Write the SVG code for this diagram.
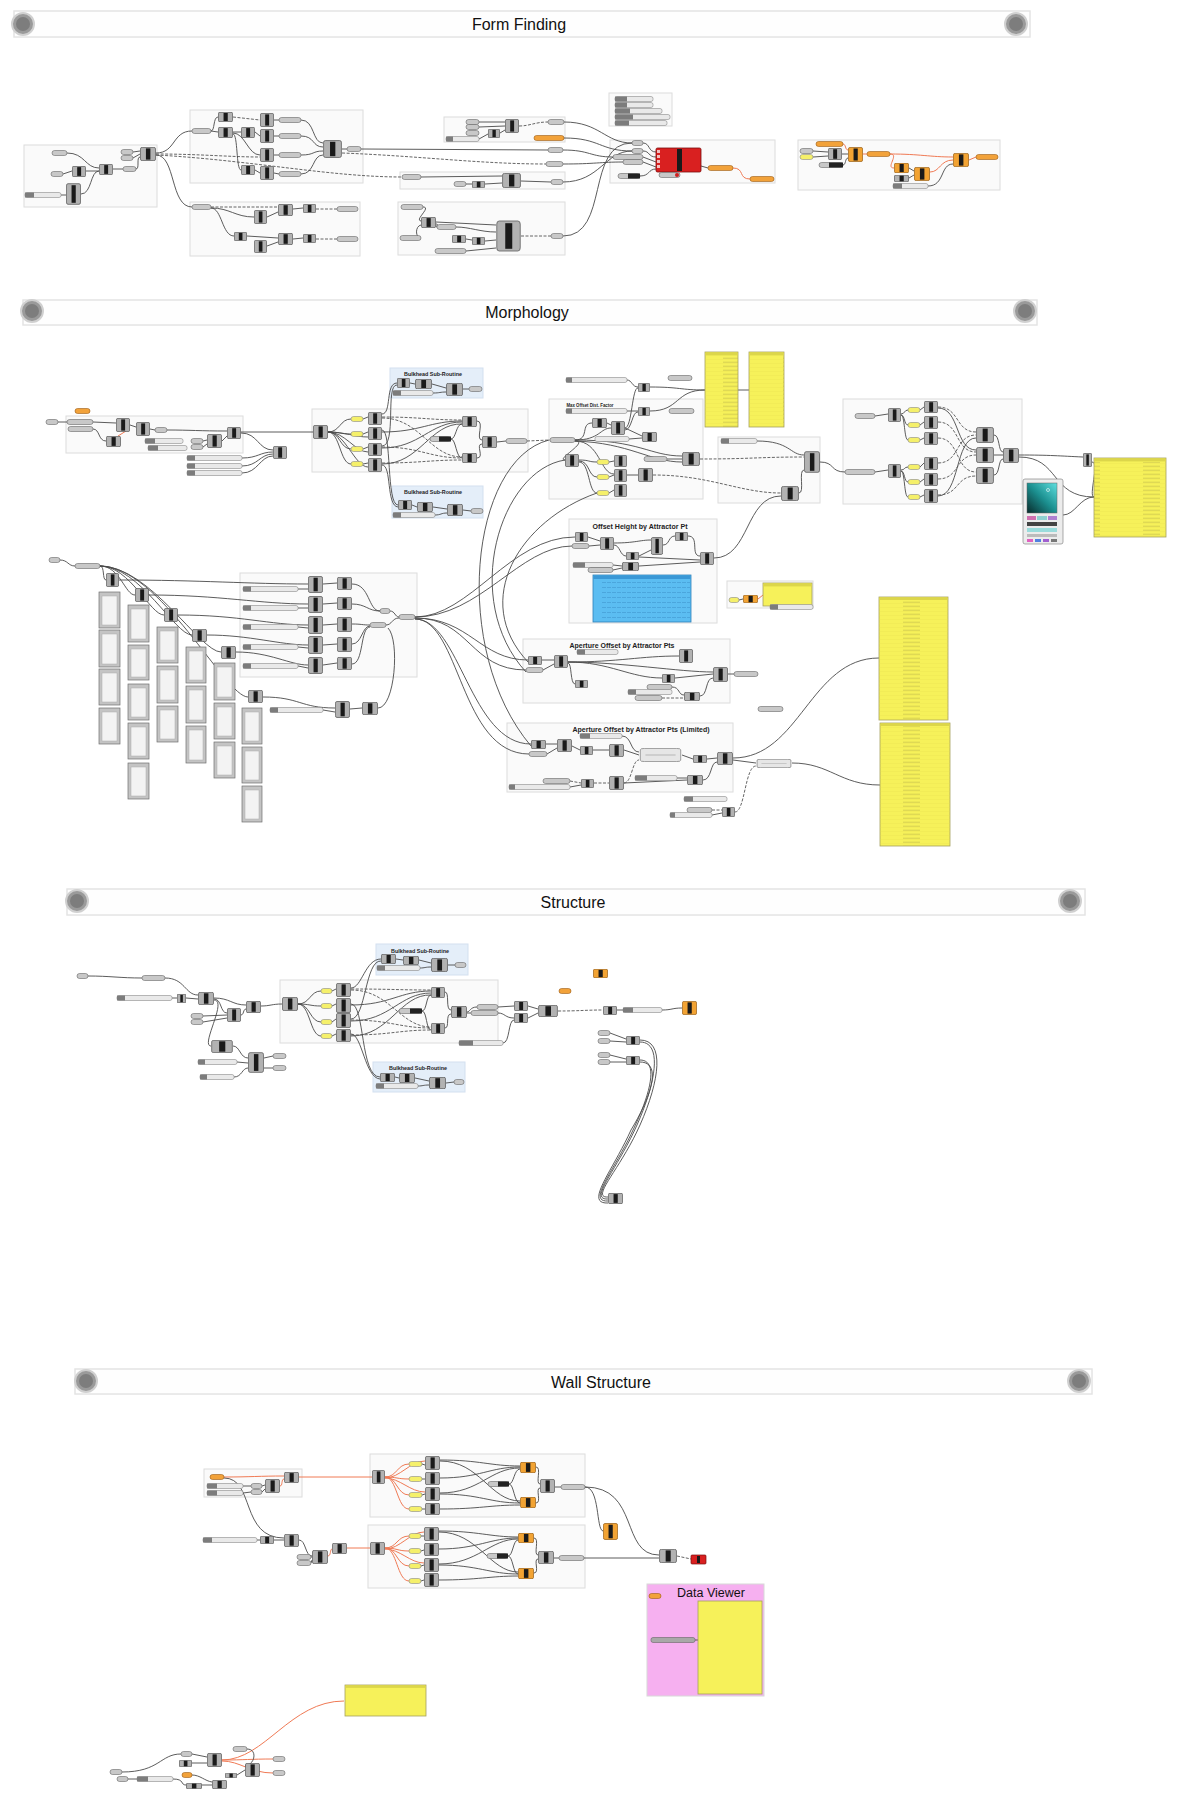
<svg xmlns="http://www.w3.org/2000/svg" width="1177" height="1800" viewBox="0 0 1177 1800">
<style>
.hb{fill:#fefefe;stroke:#e4e4e4;stroke-width:1.5}
.kn{fill:#9a9a9a;stroke:#d0d0d0;stroke-width:2}
.ki{fill:#7d7d7d}
.ht{font-family:"Liberation Sans",Arial,sans-serif;font-size:16px;fill:#111;text-anchor:middle}
.gl{font-family:"Liberation Sans",Arial,sans-serif;font-weight:bold;fill:#222;text-anchor:middle}
.grp{fill:#fafafa;stroke:#dcdcdc;stroke-width:1}
.bh{fill:#e4eef9;stroke:#d3e0ef;stroke-width:1}
.p{fill:#c8c8c8;stroke:#666;stroke-width:.6;rx:2.5px}
.py{fill:#f5f06a;stroke:#888;stroke-width:.6;rx:2.5px}
.po{fill:#f2a23a;stroke:#9a5a14;stroke-width:.6;rx:2.5px}
.s{fill:#e9e9e9;stroke:#8a8a8a;stroke-width:.6;rx:2px}
.sl{fill:#7c7c7c}
.tg{fill:#222}
.w{fill:none;stroke:#4a4a4a;stroke-width:.9}
.wd{fill:none;stroke:#555;stroke-width:.9;stroke-dasharray:3 1.5}
.wo{fill:none;stroke:#f07a55;stroke-width:1}
.pan{fill:#f6f15a;stroke:#a5a060;stroke-width:.8}
.ph{fill:#dcd64a}
.tl{fill:#c4c4c4;stroke:#707070;stroke-width:.7}
.ti{fill:#f3f3f3;stroke:#aaa;stroke-width:.5}
</style>
<defs>
<symbol id="c" viewBox="0 0 10 10" preserveAspectRatio="none"><rect x=".3" y=".3" width="9.4" height="9.4" rx="1" fill="#b2b2b2" stroke="#505050" stroke-width=".7" vector-effect="non-scaling-stroke"/><rect x="3.7" y="1" width="2.8" height="8" fill="#1a1a1a"/></symbol>
<symbol id="co" viewBox="0 0 10 10" preserveAspectRatio="none"><rect x=".3" y=".3" width="9.4" height="9.4" rx="1" fill="#f2a333" stroke="#955a10" stroke-width=".7" vector-effect="non-scaling-stroke"/><rect x="3.7" y="1" width="2.8" height="8" fill="#1a1a1a"/></symbol>
<symbol id="cl" viewBox="0 0 10 10" preserveAspectRatio="none"><rect x=".3" y=".3" width="9.4" height="9.4" rx="1" fill="#e6e6e6" stroke="#777" stroke-width=".7" vector-effect="non-scaling-stroke"/><rect x="1.5" y="4.6" width="7" height=".8" fill="#bbb"/></symbol>
<pattern id="rows" width="60" height="4" patternUnits="userSpaceOnUse"><line x1="3" y1="2.2" x2="20" y2="2.2" stroke="#bdb54a" stroke-width=".6"/><line x1="0" y1="3.9" x2="60" y2="3.9" stroke="#e6df4c" stroke-width=".4"/></pattern>
<pattern id="brows" width="100" height="5" patternUnits="userSpaceOnUse"><line x1="2" y1="2.5" x2="90" y2="2.5" stroke="#3a8fc8" stroke-width=".5" stroke-dasharray="4 1"/></pattern>
<pattern id="grs" width="3" height="3" patternUnits="userSpaceOnUse"><line x1="0" y1="1.5" x2="3" y2="1.5" stroke="#dadada" stroke-width=".5"/></pattern>
<linearGradient id="sw" x1="1" y1="0" x2="0" y2="1"><stop offset="0" stop-color="#5fe0e0"/><stop offset=".5" stop-color="#1b8f8f"/><stop offset="1" stop-color="#082a2a"/></linearGradient>
</defs>
<rect width="1177" height="1800" fill="#ffffff"/>

<g id="hdr-form-finding"><rect class="hb" x="14" y="11" width="1016" height="26"/><circle class="kn" cx="23" cy="24" r="11"/><circle class="ki" cx="23" cy="24" r="7"/><circle class="kn" cx="1016" cy="24" r="11"/><circle class="ki" cx="1016" cy="24" r="7"/><text class="ht" x="519" y="29.5">Form Finding</text></g>
<g id="hdr-morphology"><rect class="hb" x="23" y="300" width="1014" height="25"/><circle class="kn" cx="32" cy="311" r="11"/><circle class="ki" cx="32" cy="311" r="7"/><circle class="kn" cx="1025" cy="311" r="11"/><circle class="ki" cx="1025" cy="311" r="7"/><text class="ht" x="527" y="318">Morphology</text></g>
<g id="hdr-structure"><rect class="hb" x="67" y="889" width="1018" height="26"/><circle class="kn" cx="77" cy="901" r="11"/><circle class="ki" cx="77" cy="901" r="7"/><circle class="kn" cx="1070" cy="901" r="11"/><circle class="ki" cx="1070" cy="901" r="7"/><text class="ht" x="573" y="908">Structure</text></g>
<g id="hdr-wall-structure"><rect class="hb" x="75" y="1369" width="1017" height="25"/><circle class="kn" cx="86" cy="1381" r="11"/><circle class="ki" cx="86" cy="1381" r="7"/><circle class="kn" cx="1079" cy="1381" r="11"/><circle class="ki" cx="1079" cy="1381" r="7"/><text class="ht" x="601" y="1388">Wall Structure</text></g>

<g id="groups">
<rect class="grp" x="24" y="145" width="133" height="62"/>
<rect class="grp" x="190" y="110" width="173" height="73"/>
<rect class="grp" x="190" y="202" width="170" height="54"/>
<rect class="grp" x="444" y="117" width="121" height="25"/>
<rect class="grp" x="400" y="172" width="165" height="17"/>
<rect class="grp" x="398" y="202" width="167" height="53"/>
<rect class="grp" x="609" y="93" width="63" height="33"/>
<rect class="grp" x="610" y="140" width="165" height="43"/>
<rect class="grp" x="798" y="140" width="202" height="50"/>
<rect class="grp" x="66" y="416" width="177" height="37"/>
<rect class="grp" x="312" y="409" width="216" height="63"/>
<rect class="bh" x="390" y="368" width="93" height="30"/>
<rect class="bh" x="392" y="486" width="91" height="32"/>
<rect class="grp" x="549" y="399" width="154" height="100"/>
<rect class="grp" x="718" y="437" width="102" height="66"/>
<rect class="grp" x="843" y="399" width="179" height="105"/>
<rect class="grp" x="240" y="573" width="177" height="104"/>
<rect class="grp" x="569" y="519" width="148" height="104"/>
<rect class="grp" x="727" y="581" width="86" height="27"/>
<rect class="grp" x="523" y="639" width="207" height="64"/>
<rect class="grp" x="507" y="723" width="226" height="69"/>
<rect class="grp" x="280" y="980" width="218" height="63"/>
<rect class="bh" x="376" y="944" width="92" height="31"/>
<rect class="bh" x="373" y="1062" width="92" height="30"/>
<rect class="grp" x="204" y="1469" width="98" height="28"/>
<rect class="grp" x="370" y="1454" width="215" height="63"/>
<rect class="grp" x="368" y="1525" width="217" height="63"/>
<rect x="647" y="1584" width="117" height="112" fill="#f6b0f0" stroke="#d8d8d8"/>
<text class="gl" x="433" y="376" font-size="5.5" textLength="58" lengthAdjust="spacingAndGlyphs">Bulkhead Sub-Routine</text>
<text class="gl" x="433" y="494" font-size="5.5" textLength="58" lengthAdjust="spacingAndGlyphs">Bulkhead Sub-Routine</text>
<text class="gl" x="590" y="407" font-size="5.8" textLength="47" lengthAdjust="spacingAndGlyphs">Max Offset Dist. Factor</text>
<text class="gl" x="640" y="529" font-size="7.5" textLength="95" lengthAdjust="spacingAndGlyphs">Offset Height by Attractor Pt</text>
<text class="gl" x="622" y="648" font-size="7.5" textLength="105" lengthAdjust="spacingAndGlyphs">Aperture Offset by Attractor Pts</text>
<text class="gl" x="641" y="732" font-size="7.5" textLength="137" lengthAdjust="spacingAndGlyphs">Aperture Offset by Attractor Pts (Limited)</text>
<text class="gl" x="420" y="953" font-size="5.5" textLength="58" lengthAdjust="spacingAndGlyphs">Bulkhead Sub-Routine</text>
<text class="gl" x="418" y="1070" font-size="5.5" textLength="58" lengthAdjust="spacingAndGlyphs">Bulkhead Sub-Routine</text>
<text x="711" y="1597" font-family="Liberation Sans,Arial,sans-serif" font-size="12.5" fill="#111" text-anchor="middle">Data Viewer</text>
</g>

<g id="connectors">
<path class="w" d="M67,153 C85,153 85,168 99,168 M63,174 L72,171 M86,171 L99,171 M81,194 C92,194 90,171 99,171 M113,169 L123,169 M136,169 C140,169 136,157 140,157 M133,152 L140,151 M133,158 L140,154 M61,195 L66,195"/>
<path class="w" d="M156,153 C176,153 172,131 192,131 M156,155 C176,155 170,207 192,207"/>
<path class="wd" d="M156,154 C200,154 230,157 260,157 M156,155 C250,160 330,177 402,177"/>
<path class="w" d="M211,131 C215,131 213,117 218,117 M211,131 L218,132 M233,132 L241,132 M255,132 L260,136 M233,133 C245,133 248,155 260,155 M233,134 C238,134 236,170 241,170 M255,170 L260,173 M274,120 L279,120 M274,136 L279,136 M274,155 L279,155 M274,173 L279,174 M301,120 C315,120 312,143 323,143 M301,136 C315,136 312,147 323,147 M301,155 C315,155 312,151 323,151 M301,174 C315,174 312,155 323,155 M342,149 L347,149 M361,149 L548,150"/>
<path class="wd" d="M233,117 L260,120 M342,153 C420,156 480,164 546,164"/>
<path class="wd" d="M211,207 L278,207 M316,209 L337,209 M316,239 L337,239"/>
<path class="w" d="M211,208 C230,208 235,217 254,217 M267,217 L278,212 M293,209 L303,208 M211,208 C222,208 222,236 234,236 M247,236 L278,238 M267,246 L278,242 M293,239 L303,238"/>
<path class="w" d="M479,122 L505,122 M479,127 L505,126 M479,139 L488,134 M500,133 L505,130 M421,177 L502,176 M466,184 L472,184 M485,184 L502,183 M521,181 L551,182"/>
<path class="wd" d="M519,126 C530,126 535,122 548,122 M521,236 L551,236"/>
<path class="w" d="M423,207 C432,207 414,220 421,221 M421,238 C415,238 415,226 421,225 M436,222 L496,225 M436,224 C440,224 434,227 437,227 M456,227 C470,227 480,232 496,232 M466,239 L472,240 M485,241 L496,240 M466,251 L496,248"/>
<path class="w" d="M564,122 C600,122 605,143 632,143 M564,138 C600,138 600,151 632,151 M563,150 C590,150 590,157 613,157 M563,164 C595,164 600,162 623,162 M563,182 C600,182 605,151 632,151 M563,236 C610,236 585,143 632,143 M643,143 C650,143 648,152 656,152 M643,151 C650,151 648,157 656,157 M643,157 L656,162 M643,162 L656,167 M640,176 C650,176 648,169 656,169 M701,166 L708,168"/>
<path class="wo" d="M733,168 C745,168 738,179 750,179"/>
<path class="w" d="M813,151 L828,152 M813,157 L828,156 M842,154 L848,154 M843,165 C846,165 845,158 848,158 M909,168 L914,171 M909,178 L914,175 M928,186 C945,186 940,164 953,164"/>
<path class="wo" d="M843,144 C846,144 845,150 848,150 M863,154 L867,154 M890,154 C920,154 930,157 953,157 M890,154 C900,154 885,168 894,168 M930,172 C940,172 940,160 953,160 M969,160 L976,157"/>

<path class="w" d="M58,422 L67,422 M93,422 L116,423 M93,429 C100,429 98,441 106,441 M130,425 L136,427 M150,429 L155,430 M167,430 C190,430 200,431 227,431 M203,441 L207,440 M203,447 L207,444 M222,441 L227,436 M241,432 L313,432 M241,433 C258,433 258,450 273,450 M242,458 C258,458 260,452 273,452 M242,466 C258,466 260,454 273,454 M242,473 C258,473 260,456 273,456"/>
<path class="wo" d="M118,436 L126,431"/>
<path class="w" d="M328,432 C340,432 340,419 351,419 M328,432 C340,432 340,434 351,434 M328,432 C340,432 340,449 351,449 M328,432 C340,432 340,464 351,464 M328,432 C345,432 355,437 368,437 M328,432 C345,432 355,452 368,452 M328,432 C345,432 355,467 368,467 M363,419 L368,417 M363,434 L368,432 M363,449 L368,447 M363,464 L368,463"/>
<path class="wd" d="M382,417 C420,417 430,420 462,420 M382,418 C420,418 430,457 462,457 M382,447 C420,447 430,458 462,458 M382,463 C420,463 430,460 462,460 M527,441 L550,440"/>
<path class="w" d="M382,432 C420,432 430,421 462,421 M382,448 C420,448 430,422 462,422 M382,464 C420,464 430,423 462,424 M451,439 C456,439 456,424 462,424 M451,439 C456,439 456,458 462,458 M477,421 C485,421 475,440 482,440 M477,458 C485,458 475,444 482,444 M497,442 L506,441"/>
<path class="w" d="M382,414 C392,414 385,383 397,383 M382,446 C397,446 385,384 397,385 M382,430 C392,430 386,505 398,505 M382,465 C392,465 386,506 398,507 M410,383 L415,384 M432,384 L446,388 M433,393 C440,393 440,392 446,392 M463,389 L469,389 M412,505 L417,507 M433,507 L447,509 M435,515 C441,515 441,513 447,513 M463,510 L471,511"/>
<path class="w" d="M627,380 C632,380 632,387 638,387 M650,387 C680,387 680,390 705,390 M650,411 C680,411 675,390 705,390 M738,390 L749,390 M627,411 L638,411 M575,440 C590,440 580,423 592,423 M575,440 C600,440 600,428 611,428 M575,440 C640,440 650,456 682,456 M575,441 C630,443 650,462 682,462 M575,441 C600,441 600,474 614,474 M607,423 L611,425 M625,428 L642,436 M629,439 L642,438 M625,428 C632,428 632,387 638,388 M625,430 C632,430 632,411 638,412 M575,441 C590,441 555,460 565,460 M579,460 C590,460 588,462 597,462 M579,461 C590,461 588,477 597,477 M579,462 C590,462 588,493 597,493 M609,462 L614,461 M609,477 L614,475 M609,493 L614,490 M627,475 L638,475 M667,459 L682,459"/>
<path class="wd" d="M700,459 C750,459 760,457 804,457 M653,475 C710,475 740,493 781,493"/>
<path class="w" d="M757,441 C790,441 790,455 804,455 M799,493 C805,493 798,470 804,470 M820,462 C835,462 830,472 845,472 M714,558 C750,558 745,496 781,496"/>
<path class="w" d="M875,416 L888,414 M875,472 L888,470 M901,414 C905,414 904,410 908,410 M901,415 C905,415 904,425 908,425 M901,415 C905,415 904,440 908,440 M901,470 C905,470 904,467 908,467 M901,471 C905,471 904,482 908,482 M901,471 C905,471 904,497 908,497 M920,410 L924,407 M920,425 L924,422 M920,440 L924,438 M920,467 L924,463 M920,482 L924,479 M920,497 L924,495 M938,408 C960,408 955,450 976,450 M938,496 C960,496 955,438 976,438 M994,435 C1000,435 998,452 1003,452 M994,455 L1003,455 M994,475 C1000,475 998,459 1003,459 M1019,455 C1050,455 1060,456 1083,457 M1019,457 C1060,457 1050,497 1094,497 M1092,462 C1100,462 1088,497 1094,497 M1063,515 C1075,515 1080,497 1094,497"/>
<path class="wd" d="M938,407 C960,407 955,432 976,432 M938,422 C960,422 955,452 976,452 M938,438 C960,438 955,472 976,472 M938,463 C960,463 955,435 976,435 M938,479 C960,479 955,455 976,455 M938,495 C960,495 955,476 976,476"/>

<path class="w" d="M60,560 C68,560 68,566 75,566 M100,566 C105,566 102,580 106,580 M100,566 C120,566 125,595 135,595 M100,566 C130,566 150,615 164,615 M100,566 C140,566 175,635 192,635 M100,566 C150,566 200,652 221,652 M100,566 C160,566 225,697 248,697 M119,580 C200,580 250,584 308,584 M149,595 C220,595 260,604 308,604 M178,615 C240,615 270,625 308,625 M207,635 C250,635 280,645 308,645 M236,652 C270,652 290,665 308,665"/>
<path class="w" d="M298,589 L308,589 M298,608 L308,608 M298,627 L308,628 M298,647 L308,648 M298,666 L308,668 M323,584 L337,583 M323,604 L337,603 M323,625 L337,624 M323,645 L337,644 M323,665 L337,663 M352,584 C370,584 368,611 380,611 M352,604 C366,604 368,611 380,611 M352,624 C362,624 362,625 370,625 M352,644 C362,644 362,626 370,626 M352,664 C364,664 360,627 370,627 M390,611 C395,611 395,617 399,617 M386,625 C392,625 392,618 399,618 M378,708 C395,708 400,640 388,628 M263,697 C300,697 300,708 335,708 M323,710 L335,712 M350,709 L362,708"/>
<path class="w" d="M415,617 C480,617 520,546 572,546 M415,617 C470,617 510,537 575,537 M415,618 C470,618 480,660 528,660 M415,618 C470,618 470,670 526,670 M415,619 C460,619 470,744 531,744 M415,619 C460,619 460,754 529,754 M549,440 C470,460 450,650 531,746 M597,493 C520,520 470,600 528,662 M565,460 C500,470 460,600 526,672"/>
<path class="w" d="M588,537 L600,541 M589,546 L600,545 M614,543 C635,543 640,540 651,540 M614,545 C620,545 620,556 626,556 M639,556 L651,550 M663,545 C670,545 668,536 675,536 M688,536 C700,536 690,556 700,556 M639,557 L700,560 M613,565 L622,566 M613,570 L622,568 M639,566 L700,562 M739,600 L743,599"/>
<path class="wo" d="M758,599 L763,595"/>
<path class="w" d="M542,660 L554,660 M543,670 L554,664 M568,662 C620,662 640,656 679,656 M568,662 C620,662 680,672 713,672 M568,662 C610,662 630,678 662,678 M568,663 C572,663 570,684 575,684 M675,678 L713,674 M672,687 C680,687 678,695 684,695 M700,696 C708,696 705,678 713,678 M728,674 L734,674"/>
<path class="wd" d="M662,698 L684,698"/>
<path class="w" d="M546,744 L557,744 M547,754 L557,748 M572,746 L580,750 M593,750 L609,750 M622,736 C632,736 630,752 639,752 M624,750 L639,755 M682,755 L693,759 M707,759 L717,758 M570,787 L581,785 M624,783 L687,780 M677,778 L687,778 M703,780 C712,780 710,762 717,762 M733,758 C800,758 810,658 879,658 M733,760 L756,763 M792,763 C830,763 840,785 880,785 M712,815 L722,813"/>
<path class="wd" d="M570,781 L581,783 M594,783 L609,783 M624,783 C632,783 632,760 639,760 M712,810 L722,810 M735,812 C745,812 745,766 756,766"/>

<path class="w" d="M88,976 C110,976 120,978 142,978 M165,978 C185,978 185,995 198,995 M172,998 L177,998 M186,998 L198,999 M214,998 C230,998 232,1005 246,1005 M214,999 C222,999 220,1013 227,1013 M203,1016 L227,1015 M203,1022 L227,1018 M241,1015 C244,1015 243,1009 246,1009 M261,1006 C270,1006 272,1004 282,1004 M214,1000 C228,1000 200,1046 211,1046 M233,1046 C240,1046 240,1058 248,1058 M237,1062 L248,1063 M234,1077 C242,1077 242,1068 248,1068 M264,1058 L273,1056 M264,1068 L273,1068"/>
<path class="w" d="M298,1004 C310,1004 310,991 321,991 M298,1004 C310,1004 310,1006 321,1006 M298,1004 C310,1004 310,1022 321,1022 M298,1004 C310,1004 310,1036 321,1036 M332,991 L336,989 M332,1006 L336,1004 M332,1022 L336,1019 M332,1036 L336,1034 M351,1005 C390,1005 400,991 431,991 M351,1021 C390,1021 400,993 431,993 M351,1036 C390,1036 400,994 431,995 M422,1011 C427,1011 426,995 431,995 M422,1011 C427,1011 426,1030 431,1030 M445,992 C450,992 445,1010 451,1010 M445,1028 C450,1028 445,1014 451,1014 M467,1012 C470,1012 470,1007 477,1007 M467,1013 L471,1013 M498,1007 L514,1006 M498,1013 C505,1013 505,1018 514,1018 M503,1043 C510,1043 508,1020 514,1020 M528,1006 L538,1009 M528,1018 L538,1013 M617,1010 L623,1010 M662,1010 C672,1010 672,1008 682,1008"/>
<path class="wd" d="M351,989 C390,989 400,990 431,990 M351,990 C390,990 400,1027 431,1027 M351,1020 C390,1020 400,1028 431,1028 M351,1035 C390,1035 400,1030 431,1030 M558,1011 C580,1011 585,1010 603,1010"/>
<path class="w" d="M351,988 C362,988 365,959 381,959 M351,1019 C366,1019 365,960 381,961 M351,1004 C365,1004 360,1077 380,1077 M351,1034 C362,1034 365,1078 380,1079 M396,959 L403,960 M419,960 L431,963 M420,968 C425,968 425,967 431,967 M448,965 L455,965 M395,1077 L399,1078 M415,1078 L429,1081 M418,1086 C423,1086 423,1085 429,1085 M446,1083 L454,1082"/>
<path class="w" d="M610,1033 L626,1039 M610,1041 L626,1042 M610,1055 L626,1059 M610,1062 L626,1062 M640,1040 C665,1040 660,1080 640,1125 C620,1170 590,1198 608,1197 M640,1042 C662,1042 657,1080 637,1125 C617,1170 588,1200 608,1199 M640,1060 C658,1060 652,1090 634,1128 C615,1170 586,1202 608,1201 M640,1062 C660,1062 655,1090 631,1130 C612,1172 584,1204 608,1203"/>

<path class="wo" d="M224,1477 C250,1477 260,1476 284,1476 M280,1486 C283,1486 281,1479 284,1479 M299,1477 L372,1477 M385,1477 C397,1477 397,1464 409,1464 M385,1477 C397,1477 397,1479 409,1479 M385,1477 C397,1477 397,1495 409,1495 M385,1477 C397,1477 397,1509 409,1509 M385,1478 C400,1478 410,1461 425,1461 M385,1478 C400,1478 410,1492 425,1492 M328,1556 C331,1556 330,1549 332,1549 M347,1548 L370,1548 M385,1548 C397,1548 397,1536 409,1536 M385,1548 C397,1548 397,1551 409,1551 M385,1548 C397,1548 397,1566 409,1566 M385,1548 C397,1548 397,1581 409,1581 M385,1549 C400,1549 410,1532 424,1532 M385,1549 C400,1549 410,1563 424,1563"/>
<path class="w" d="M224,1478 C255,1478 240,1538 284,1538 M243,1486 L251,1486 M243,1493 L251,1492 M262,1486 L265,1485 M262,1492 L265,1489 M422,1464 L425,1465 M422,1479 L425,1479 M422,1495 L425,1494 M422,1509 L425,1509 M440,1460 C480,1460 490,1466 520,1466 M440,1461 C480,1461 490,1501 520,1501 M440,1478 C480,1478 490,1467 520,1467 M440,1493 C480,1493 490,1468 520,1468 M440,1494 C480,1494 490,1503 520,1503 M440,1509 C480,1509 490,1505 520,1505 M509,1484 C514,1484 514,1469 520,1469 M509,1484 C514,1484 514,1503 520,1503 M536,1467 C542,1467 535,1484 540,1484 M536,1503 C542,1503 535,1488 540,1488 M555,1487 L561,1487 M585,1487 C600,1487 596,1530 603,1531 M585,1487 C640,1487 620,1555 659,1555"/>
<path class="w" d="M257,1540 L260,1540 M274,1540 L284,1540 M299,1540 C306,1540 305,1556 312,1556 M311,1557 L312,1557 M311,1563 L312,1560 M421,1536 L424,1536 M421,1551 L424,1550 M421,1566 L424,1565 M421,1581 L424,1580 M439,1531 C478,1531 490,1537 518,1537 M439,1532 C478,1532 490,1572 518,1572 M439,1549 C478,1549 490,1538 518,1538 M439,1564 C478,1564 490,1539 518,1539 M439,1565 C478,1565 490,1574 518,1574 M439,1580 C478,1580 490,1576 518,1576 M508,1556 C513,1556 513,1540 518,1540 M508,1556 C513,1556 513,1574 518,1574 M534,1538 C540,1538 533,1555 538,1555 M534,1573 C540,1573 533,1559 538,1559 M554,1558 L559,1558 M584,1558 L659,1558 M695,1640 L698,1640"/>
<path class="wd" d="M677,1556 L691,1559"/>

<path class="wo" d="M222,1760 C265,1760 290,1701 344,1701 M222,1760 C245,1760 250,1759 273,1759 M222,1761 C240,1761 250,1773 273,1773"/>
<path class="w" d="M122,1772 C160,1772 160,1754 181,1754 M192,1754 L207,1757 M192,1763 L207,1763 M128,1779 L137,1779 M173,1779 C185,1779 180,1785 186,1785 M202,1785 L212,1785 M192,1775 C200,1775 205,1781 212,1782 M237,1775 L245,1770 M247,1749 C258,1749 255,1765 245,1766"/>
</g>

<g id="ff-input-cluster">
<rect class="p" x="52" y="150.5" width="15" height="5"/><rect class="p" x="51" y="171.5" width="12" height="5"/>
<use href="#c" x="72" y="166" width="14" height="11"/><use href="#c" x="99" y="164" width="14" height="11"/><use href="#c" x="66" y="183" width="15" height="22"/>
<rect class="s" x="25" y="192.5" width="36" height="5"/><rect class="sl" x="25" y="192.5" width="9" height="5"/>
<rect class="p" x="121" y="149.5" width="12" height="5"/><rect class="p" x="121" y="155.5" width="12" height="5"/><rect class="p" x="123" y="166.5" width="13" height="5"/>
<use href="#c" x="140" y="147" width="16" height="14"/>
</g>
<g id="ff-upper-cluster">
<rect class="p" x="192" y="128.5" width="19" height="5"/>
<use href="#c" x="218" y="112" width="15" height="10"/><use href="#c" x="218" y="127" width="15" height="11"/><use href="#c" x="241" y="127" width="14" height="11"/><use href="#c" x="241" y="165" width="14" height="10"/>
<use href="#c" x="260" y="113" width="14" height="14"/><use href="#c" x="260" y="129" width="14" height="14"/><use href="#c" x="260" y="148" width="14" height="14"/><use href="#c" x="260" y="166" width="14" height="14"/>
<rect class="p" x="279" y="117.5" width="22" height="5"/><rect class="p" x="279" y="133.5" width="22" height="5"/><rect class="p" x="279" y="152.5" width="22" height="5"/><rect class="p" x="279" y="171.5" width="22" height="5"/>
<use href="#c" x="323" y="140" width="19" height="18"/><rect class="p" x="347" y="146.5" width="14" height="5"/>
</g>
<g id="ff-lower-cluster">
<rect class="p" x="192" y="204.5" width="19" height="5"/>
<use href="#c" x="254" y="210" width="13" height="14"/><use href="#c" x="278" y="204" width="15" height="12"/><use href="#c" x="303" y="204" width="13" height="9"/><rect class="p" x="337" y="206.5" width="21" height="5"/>
<use href="#c" x="234" y="232" width="13" height="9"/><use href="#c" x="254" y="240" width="13" height="13"/><use href="#c" x="278" y="233" width="15" height="12"/><use href="#c" x="303" y="234" width="13" height="9"/><rect class="p" x="337" y="236.5" width="21" height="5"/>
</g>
<g id="ff-right-inputs">
<rect class="p" x="466" y="119.5" width="13" height="5"/><rect class="p" x="466" y="124.5" width="13" height="5"/><rect class="p" x="466" y="130.5" width="13" height="5"/>
<use href="#c" x="505" y="119" width="14" height="14"/><use href="#c" x="488" y="129" width="12" height="9"/>
<rect class="s" x="446" y="136.5" width="33" height="5"/><rect class="sl" x="446" y="136.5" width="7" height="5"/>
<rect class="p" x="548" y="119.5" width="16" height="5"/><rect class="po" x="534" y="135.5" width="30" height="5"/>
<rect class="p" x="548" y="147.5" width="15" height="5"/><rect class="p" x="546" y="161.5" width="17" height="5"/>
<rect class="p" x="402" y="174.5" width="19" height="5"/><rect class="p" x="454" y="181.5" width="12" height="5"/>
<use href="#c" x="472" y="181" width="13" height="7"/><use href="#c" x="502" y="173" width="19" height="15"/><rect class="p" x="551" y="179.5" width="12" height="5"/>
<rect class="p" x="401" y="204.5" width="22" height="5"/><rect class="p" x="400" y="235.5" width="21" height="5"/>
<use href="#c" x="421" y="217" width="15" height="11"/><rect class="p" x="437" y="224.5" width="19" height="5"/>
<use href="#c" x="452" y="235" width="14" height="8"/><use href="#c" x="472" y="237" width="13" height="8"/><rect class="p" x="435" y="248.5" width="31" height="5"/>
<use href="#c" x="496" y="220" width="25" height="32"/><rect class="p" x="551" y="233.5" width="12" height="5"/>
</g>
<g id="ff-sliders">
<rect class="s" x="615" y="96.5" width="38" height="5"/><rect class="sl" x="615" y="96.5" width="12" height="5"/>
<rect class="s" x="615" y="102.5" width="38" height="5"/><rect class="sl" x="615" y="102.5" width="12" height="5"/>
<rect class="s" x="615" y="108.5" width="47" height="5"/><rect class="sl" x="615" y="108.5" width="15" height="5"/>
<rect class="s" x="615" y="114.5" width="55" height="5"/><rect class="sl" x="615" y="114.5" width="18" height="5"/>
<rect class="s" x="615" y="120.5" width="52" height="5"/><rect class="sl" x="615" y="120.5" width="14" height="5"/>
</g>
<g id="ff-red-solver">
<rect class="p" x="632" y="140.5" width="11" height="5"/><rect class="p" x="632" y="148.5" width="11" height="5"/><rect class="p" x="613" y="154.5" width="30" height="5"/><rect class="p" x="623" y="159.5" width="20" height="5"/>
<rect x="656" y="148" width="45" height="24" rx="1.5" fill="#d92020" stroke="#7a0e0e" stroke-width=".8"/><rect x="677" y="149" width="5" height="22" fill="#1a1a1a"/>
<rect x="657" y="150" width="3" height="3" fill="#f3c0c0"/><rect x="657" y="155" width="3" height="3" fill="#f3c0c0"/><rect x="657" y="160" width="3" height="3" fill="#f3c0c0"/><rect x="657" y="165" width="3" height="3" fill="#f3c0c0"/>
<rect class="p" x="618" y="173.5" width="22" height="5"/><rect class="tg" x="628" y="173.5" width="12" height="5"/>
<rect class="p" x="659" y="172.5" width="21" height="5"/><circle cx="677" cy="175" r="2" fill="#d02020"/>
<rect class="po" x="708" y="165.5" width="25" height="5"/><rect class="po" x="750" y="176.5" width="24" height="5"/>
</g>
<g id="ff-orange-cluster">
<rect class="po" x="816" y="141.5" width="27" height="5"/><rect class="p" x="800" y="148.5" width="13" height="5"/><rect class="py" x="800" y="154.5" width="13" height="5"/>
<use href="#c" x="828" y="148" width="14" height="12"/><use href="#co" x="848" y="147" width="15" height="15"/>
<rect class="p" x="819" y="162.5" width="24" height="5"/><rect class="tg" x="829" y="162.5" width="14" height="5"/>
<rect class="po" x="867" y="151.5" width="23" height="5"/>
<use href="#co" x="894" y="163" width="15" height="10"/><use href="#c" x="894" y="175" width="15" height="7"/><use href="#co" x="914" y="167" width="16" height="14"/>
<rect class="s" x="893" y="183.5" width="35" height="5"/><rect class="sl" x="893" y="183.5" width="9" height="5"/>
<use href="#co" x="953" y="153" width="16" height="14"/><rect class="po" x="976" y="154.5" width="22" height="5"/>
</g>

<g id="mo-inputs">
<rect class="po" x="75" y="408.5" width="15" height="5"/><rect class="p" x="46" y="419.5" width="12" height="5"/><rect class="p" x="67" y="419.5" width="26" height="5"/><rect class="p" x="68" y="426.5" width="25" height="5"/>
<use href="#c" x="116" y="418" width="14" height="14"/><use href="#c" x="106" y="436" width="15" height="11"/><use href="#c" x="136" y="422" width="14" height="14"/><rect class="p" x="155" y="427.5" width="12" height="5"/>
<rect class="s" x="145" y="438.5" width="38" height="5"/><rect class="sl" x="145" y="438.5" width="10" height="5"/><rect class="s" x="148" y="445.5" width="39" height="5"/><rect class="sl" x="148" y="445.5" width="10" height="5"/>
<rect class="p" x="191" y="438.5" width="12" height="5"/><rect class="p" x="191" y="444.5" width="12" height="5"/>
<use href="#c" x="207" y="434" width="15" height="14"/><use href="#c" x="227" y="427" width="14" height="12"/>
<use href="#c" x="273" y="446" width="14" height="13"/>
<rect class="s" x="187" y="455.5" width="55" height="5"/><rect class="sl" x="187" y="455.5" width="8" height="5"/><rect class="s" x="187" y="463.5" width="55" height="5"/><rect class="sl" x="187" y="463.5" width="8" height="5"/><rect class="s" x="187" y="470.5" width="55" height="5"/><rect class="sl" x="187" y="470.5" width="8" height="5"/>
</g>
<g id="mo-hub">
<use href="#c" x="313" y="425" width="15" height="14"/>
<rect class="py" x="351" y="416.5" width="12" height="5"/><rect class="py" x="351" y="431.5" width="12" height="5"/><rect class="py" x="351" y="446.5" width="12" height="5"/><rect class="py" x="351" y="461.5" width="12" height="5"/>
<use href="#c" x="368" y="412" width="14" height="13"/><use href="#c" x="368" y="427" width="14" height="13"/><use href="#c" x="368" y="443" width="14" height="13"/><use href="#c" x="368" y="458" width="14" height="14"/>
<use href="#c" x="462" y="416" width="15" height="11"/><use href="#c" x="462" y="453" width="15" height="10"/>
<rect class="p" x="430" y="436.5" width="21" height="5"/><rect class="tg" x="439" y="436.5" width="12" height="5"/>
<use href="#c" x="482" y="436" width="15" height="12"/><rect class="p" x="506" y="438.5" width="21" height="5"/>
</g>
<g id="mo-bulkhead-top">
<use href="#c" x="397" y="378" width="13" height="10"/><use href="#c" x="415" y="379" width="17" height="10"/><use href="#c" x="446" y="383" width="17" height="13"/>
<rect class="s" x="393" y="390.5" width="40" height="5"/><rect class="sl" x="393" y="390.5" width="8" height="5"/><rect class="p" x="469" y="386.5" width="13" height="5"/>
</g>
<g id="mo-bulkhead-bottom">
<use href="#c" x="398" y="500" width="14" height="10"/><use href="#c" x="417" y="502" width="16" height="10"/><use href="#c" x="447" y="504" width="16" height="12"/>
<rect class="s" x="393" y="512.5" width="42" height="5"/><rect class="sl" x="393" y="512.5" width="8" height="5"/><rect class="p" x="471" y="508.5" width="12" height="5"/>
</g>
<g id="mo-max-offset">
<rect class="s" x="566" y="377.5" width="61" height="5"/><rect class="sl" x="566" y="377.5" width="6" height="5"/><use href="#c" x="638" y="383" width="12" height="9"/><rect class="p" x="668" y="375.5" width="24" height="5"/>
<rect class="s" x="566" y="408.5" width="61" height="5"/><rect class="sl" x="566" y="408.5" width="6" height="5"/><use href="#c" x="638" y="407" width="12" height="9"/><rect class="p" x="669" y="408.5" width="25" height="5"/>
<use href="#c" x="592" y="418" width="15" height="10"/><use href="#c" x="611" y="421" width="14" height="14"/><use href="#c" x="642" y="432" width="15" height="10"/>
<rect class="p" x="550" y="437.5" width="25" height="5"/><rect class="s" x="595" y="436.5" width="34" height="5"/>
<use href="#c" x="565" y="454" width="14" height="13"/>
<rect class="py" x="597" y="459.5" width="12" height="5"/><rect class="py" x="597" y="474.5" width="12" height="5"/><rect class="py" x="597" y="490.5" width="12" height="5"/>
<use href="#c" x="614" y="455" width="13" height="12"/><use href="#c" x="614" y="469" width="13" height="13"/><use href="#c" x="614" y="484" width="13" height="13"/>
<use href="#c" x="638" y="468" width="15" height="14"/><rect class="p" x="644" y="456.5" width="23" height="5"/><use href="#c" x="682" y="452" width="18" height="14"/>
</g>
<g id="mo-panels-top">
<rect class="pan" x="705" y="352" width="33" height="75"/><rect class="ph" x="705.4" y="352.4" width="32.2" height="3"/><rect x="705" y="356" width="33" height="71" fill="url(#rows)"/>
<rect class="pan" x="749" y="352" width="35" height="75"/><rect class="ph" x="749.4" y="352.4" width="34.2" height="3"/><rect x="749" y="356" width="35" height="71" fill="url(#rows)"/>
</g>
<g id="mo-mid">
<rect class="s" x="721" y="438.5" width="36" height="5"/><rect class="sl" x="721" y="438.5" width="8" height="5"/>
<use href="#c" x="804" y="451" width="16" height="22"/><use href="#c" x="781" y="486" width="18" height="15"/>
</g>
<g id="mo-right-cluster">
<rect class="p" x="855" y="413.5" width="20" height="5"/><rect class="p" x="845" y="469.5" width="30" height="5"/>
<use href="#c" x="888" y="408" width="13" height="14"/><use href="#c" x="888" y="464" width="13" height="14"/>
<rect class="py" x="908" y="407.5" width="12" height="5"/><rect class="py" x="908" y="422.5" width="12" height="5"/><rect class="py" x="908" y="437.5" width="12" height="5"/><rect class="py" x="908" y="464.5" width="12" height="5"/><rect class="py" x="908" y="479.5" width="12" height="5"/><rect class="py" x="908" y="494.5" width="12" height="5"/>
<use href="#c" x="924" y="401" width="14" height="12"/><use href="#c" x="924" y="416" width="14" height="13"/><use href="#c" x="924" y="432" width="14" height="13"/><use href="#c" x="924" y="457" width="14" height="13"/><use href="#c" x="924" y="473" width="14" height="13"/><use href="#c" x="924" y="489" width="14" height="14"/>
<use href="#c" x="976" y="427" width="18" height="16"/><use href="#c" x="976" y="447" width="18" height="16"/><use href="#c" x="976" y="467" width="18" height="17"/>
<use href="#c" x="1003" y="448" width="16" height="15"/><use href="#c" x="1083" y="453" width="9" height="14"/>
</g>
<g id="mo-color-swatch">
<rect x="1023" y="479" width="40" height="65" rx="2" fill="#ececec" stroke="#888" stroke-width=".7"/>
<rect x="1027" y="483" width="30" height="30" fill="url(#sw)" stroke="#666" stroke-width=".5"/><circle cx="1048" cy="490" r="1.5" fill="none" stroke="#fff" stroke-width=".6"/>
<rect x="1027" y="516" width="9" height="4" fill="#d070b0"/><rect x="1037" y="516" width="10" height="4" fill="#8fd0d0"/><rect x="1048" y="516" width="9" height="4" fill="#b080d0"/>
<rect x="1027" y="522" width="30" height="4" fill="#444"/><rect x="1027" y="528" width="30" height="4" fill="#9adcdc"/>
<rect x="1027" y="534" width="30" height="3" fill="#bbb"/>
<rect x="1027" y="539" width="6" height="3" fill="#e060c0"/><rect x="1035" y="539" width="6" height="3" fill="#5080e0"/><rect x="1043" y="539" width="6" height="3" fill="#a060d0"/><rect x="1051" y="539" width="6" height="3" fill="#777"/>
</g>
<g id="mo-panel-right">
<rect class="pan" x="1094" y="458" width="72" height="79"/><rect class="ph" x="1094.4" y="458.4" width="71.2" height="3"/><rect x="1094" y="462" width="72" height="75" fill="url(#rows)"/>
</g>
<g id="mo-list-inputs">
<rect class="p" x="49" y="557.5" width="11" height="5"/><rect class="p" x="75" y="563.5" width="25" height="5"/>
<use href="#c" x="106" y="573" width="13" height="14"/><use href="#c" x="135" y="588" width="14" height="14"/><use href="#c" x="164" y="608" width="14" height="14"/><use href="#c" x="192" y="629" width="15" height="13"/><use href="#c" x="221" y="646" width="15" height="13"/><use href="#c" x="248" y="690" width="15" height="13"/>
</g>
<g id="mo-list-graphs">
<rect class="tl" x="99" y="592" width="21" height="36"/><rect class="ti" x="102" y="596" width="15" height="29"/>
<rect class="tl" x="99" y="630" width="21" height="37"/><rect class="ti" x="102" y="634" width="15" height="30"/>
<rect class="tl" x="99" y="669" width="21" height="36"/><rect class="ti" x="102" y="673" width="15" height="29"/>
<rect class="tl" x="99" y="708" width="21" height="36"/><rect class="ti" x="102" y="712" width="15" height="29"/>
<rect class="tl" x="128" y="605" width="21" height="37"/><rect class="ti" x="131" y="609" width="15" height="30"/>
<rect class="tl" x="128" y="645" width="21" height="35"/><rect class="ti" x="131" y="649" width="15" height="28"/>
<rect class="tl" x="128" y="684" width="21" height="36"/><rect class="ti" x="131" y="688" width="15" height="29"/>
<rect class="tl" x="128" y="723" width="21" height="36"/><rect class="ti" x="131" y="727" width="15" height="29"/>
<rect class="tl" x="128" y="763" width="21" height="36"/><rect class="ti" x="131" y="767" width="15" height="29"/>
<rect class="tl" x="157" y="627" width="21" height="36"/><rect class="ti" x="160" y="631" width="15" height="29"/>
<rect class="tl" x="157" y="666" width="21" height="37"/><rect class="ti" x="160" y="670" width="15" height="30"/>
<rect class="tl" x="157" y="706" width="21" height="36"/><rect class="ti" x="160" y="710" width="15" height="29"/>
<rect class="tl" x="186" y="647" width="20" height="36"/><rect class="ti" x="189" y="651" width="14" height="29"/>
<rect class="tl" x="186" y="686" width="20" height="37"/><rect class="ti" x="189" y="690" width="14" height="30"/>
<rect class="tl" x="186" y="726" width="20" height="37"/><rect class="ti" x="189" y="730" width="14" height="30"/>
<rect class="tl" x="214" y="663" width="21" height="37"/><rect class="ti" x="217" y="667" width="15" height="30"/>
<rect class="tl" x="214" y="703" width="21" height="36"/><rect class="ti" x="217" y="707" width="15" height="29"/>
<rect class="tl" x="214" y="742" width="21" height="36"/><rect class="ti" x="217" y="746" width="15" height="29"/>
<rect class="tl" x="242" y="708" width="20" height="36"/><rect class="ti" x="245" y="712" width="14" height="29"/>
<rect class="tl" x="242" y="747" width="20" height="36"/><rect class="ti" x="245" y="751" width="14" height="29"/>
<rect class="tl" x="242" y="786" width="20" height="36"/><rect class="ti" x="245" y="790" width="14" height="29"/>
</g>
<g id="mo-list-group">
<rect class="s" x="243" y="586.5" width="55" height="5"/><rect class="sl" x="243" y="586.5" width="8" height="5"/><rect class="s" x="243" y="605.5" width="55" height="5"/><rect class="sl" x="243" y="605.5" width="8" height="5"/><rect class="s" x="243" y="624.5" width="55" height="5"/><rect class="sl" x="243" y="624.5" width="8" height="5"/><rect class="s" x="243" y="644.5" width="55" height="5"/><rect class="sl" x="243" y="644.5" width="8" height="5"/><rect class="s" x="243" y="663.5" width="55" height="5"/><rect class="sl" x="243" y="663.5" width="8" height="5"/>
<use href="#c" x="308" y="576" width="15" height="17"/><use href="#c" x="308" y="596" width="15" height="17"/><use href="#c" x="308" y="616" width="15" height="18"/><use href="#c" x="308" y="636" width="15" height="18"/><use href="#c" x="308" y="657" width="15" height="17"/>
<use href="#c" x="337" y="577" width="15" height="13"/><use href="#c" x="337" y="597" width="15" height="13"/><use href="#c" x="337" y="617" width="15" height="15"/><use href="#c" x="337" y="637" width="15" height="15"/><use href="#c" x="337" y="657" width="15" height="13"/>
<rect class="p" x="380" y="608.5" width="10" height="5"/><rect class="p" x="370" y="622.5" width="16" height="5"/><rect class="p" x="399" y="614.5" width="16" height="5"/>
<use href="#c" x="335" y="701" width="15" height="17"/><use href="#c" x="362" y="702" width="16" height="13"/>
<rect class="s" x="270" y="707.5" width="53" height="5"/><rect class="sl" x="270" y="707.5" width="8" height="5"/>
</g>
<g id="mo-offset-height">
<use href="#c" x="575" y="532" width="13" height="10"/><rect class="p" x="572" y="543.5" width="17" height="5"/><use href="#c" x="600" y="537" width="14" height="13"/><use href="#c" x="626" y="552" width="13" height="8"/><use href="#c" x="651" y="537" width="12" height="18"/><use href="#c" x="675" y="532" width="13" height="9"/><use href="#c" x="700" y="552" width="14" height="13"/>
<rect class="s" x="573" y="562.5" width="40" height="5"/><rect class="sl" x="573" y="562.5" width="12" height="5"/><rect class="p" x="588" y="567.5" width="25" height="5"/><use href="#c" x="622" y="562" width="17" height="9"/>
</g>
<g id="mo-blue-panel">
<rect x="593" y="575" width="98" height="47" fill="#5bbdf2" stroke="#2f80b8" stroke-width=".8"/><rect x="593.4" y="575.4" width="97.2" height="3.6" fill="#3a98d6"/>
<rect x="594" y="580" width="96" height="40" fill="url(#brows)"/>
</g>
<g id="mo-distance-panel">
<rect class="py" x="729" y="597.5" width="10" height="5"/><use href="#co" x="743" y="595" width="15" height="8"/>
<rect class="pan" x="763" y="583" width="49" height="23"/><rect class="ph" x="763.4" y="583.4" width="48.2" height="3"/>
<rect class="s" x="770" y="604.5" width="43" height="5"/><rect class="sl" x="770" y="604.5" width="8" height="5"/>
</g>
<g id="mo-aperture">
<use href="#c" x="528" y="656" width="14" height="9"/><use href="#c" x="554" y="655" width="14" height="13"/><rect class="p" x="526" y="667.5" width="17" height="5"/>
<rect class="s" x="577" y="649.5" width="41" height="5"/><rect class="sl" x="577" y="649.5" width="8" height="5"/>
<use href="#c" x="679" y="649" width="14" height="14"/><use href="#c" x="575" y="680" width="13" height="8"/><use href="#c" x="662" y="674" width="13" height="9"/><use href="#c" x="713" y="667" width="15" height="15"/>
<rect class="p" x="734" y="671.5" width="24" height="5"/>
<rect class="p" x="647" y="684.5" width="25" height="5"/><rect class="s" x="628" y="689.5" width="44" height="5"/><rect class="sl" x="628" y="689.5" width="8" height="5"/><rect class="p" x="635" y="695.5" width="27" height="5"/>
<use href="#c" x="684" y="692" width="16" height="9"/><rect class="p" x="758" y="706.5" width="25" height="5"/>
</g>
<g id="mo-aperture-limited">
<use href="#c" x="531" y="740" width="15" height="9"/><use href="#c" x="557" y="739" width="15" height="13"/><rect class="p" x="529" y="751.5" width="18" height="5"/>
<rect class="s" x="580" y="733.5" width="42" height="5"/><rect class="sl" x="580" y="733.5" width="10" height="5"/>
<use href="#c" x="580" y="746" width="13" height="9"/><use href="#c" x="609" y="744" width="15" height="13"/><use href="#cl" x="639" y="748" width="43" height="14"/>
<use href="#c" x="693" y="755" width="14" height="8"/><use href="#c" x="717" y="752" width="16" height="13"/>
<rect class="p" x="543" y="778.5" width="27" height="5"/><rect class="s" x="509" y="784.5" width="61" height="5"/><rect class="sl" x="509" y="784.5" width="6" height="5"/>
<use href="#c" x="581" y="779" width="13" height="9"/><use href="#c" x="609" y="776" width="15" height="14"/>
<rect class="s" x="635" y="775.5" width="42" height="5"/><rect class="sl" x="635" y="775.5" width="12" height="5"/><use href="#c" x="687" y="775" width="16" height="10"/>
<use href="#cl" x="756" y="759" width="36" height="9"/>
<rect class="s" x="684" y="796.5" width="43" height="5"/><rect class="sl" x="684" y="796.5" width="9" height="5"/>
<rect class="p" x="687" y="807.5" width="25" height="5"/><rect class="s" x="670" y="812.5" width="42" height="5"/><rect class="sl" x="670" y="812.5" width="5" height="5"/>
<use href="#c" x="722" y="807" width="13" height="10"/>
</g>
<g id="mo-panels-tall">
<rect class="pan" x="879" y="597" width="69" height="123"/><rect class="ph" x="879.4" y="597.4" width="68.2" height="2.6"/><rect x="879" y="600" width="69" height="120" fill="url(#rows)"/>
<rect class="pan" x="880" y="723" width="70" height="123"/><rect class="ph" x="880.4" y="723.4" width="69.2" height="2.6"/><rect x="880" y="726" width="70" height="120" fill="url(#rows)"/>
</g>

<g id="st-inputs">
<rect class="p" x="77" y="973.5" width="11" height="5"/><rect class="p" x="142" y="975.5" width="23" height="5"/>
<rect class="s" x="117" y="995.5" width="55" height="5"/><rect class="sl" x="117" y="995.5" width="8" height="5"/>
<use href="#c" x="177" y="994" width="9" height="9"/><use href="#c" x="198" y="992" width="16" height="13"/><use href="#c" x="227" y="1008" width="14" height="14"/><use href="#c" x="246" y="1001" width="15" height="12"/>
<rect class="p" x="191" y="1013.5" width="12" height="5"/><rect class="p" x="191" y="1019.5" width="12" height="5"/>
<use href="#c" x="211" y="1040" width="22" height="13"/><use href="#c" x="248" y="1052" width="16" height="21"/>
<rect class="p" x="273" y="1053.5" width="13" height="5"/><rect class="p" x="273" y="1065.5" width="13" height="5"/>
<rect class="s" x="198" y="1059.5" width="39" height="5"/><rect class="sl" x="198" y="1059.5" width="7" height="5"/><rect class="s" x="200" y="1074.5" width="34" height="5"/><rect class="sl" x="200" y="1074.5" width="7" height="5"/>
</g>
<g id="st-hub">
<use href="#c" x="282" y="997" width="16" height="14"/>
<rect class="py" x="321" y="988.5" width="11" height="5"/><rect class="py" x="321" y="1003.5" width="11" height="5"/><rect class="py" x="321" y="1019.5" width="11" height="5"/><rect class="py" x="321" y="1033.5" width="11" height="5"/>
<use href="#c" x="336" y="983" width="15" height="14"/><use href="#c" x="336" y="998" width="15" height="15"/><use href="#c" x="336" y="1013" width="15" height="15"/><use href="#c" x="336" y="1029" width="15" height="13"/>
<use href="#c" x="431" y="987" width="14" height="11"/><use href="#c" x="431" y="1023" width="14" height="11"/>
<rect class="p" x="399" y="1008.5" width="23" height="5"/><rect class="tg" x="410" y="1008.5" width="12" height="5"/>
<use href="#c" x="451" y="1006" width="16" height="12"/>
<rect class="p" x="477" y="1004.5" width="21" height="5"/><rect class="p" x="471" y="1010.5" width="27" height="5"/>
</g>
<g id="st-bulkhead-top">
<use href="#c" x="381" y="954" width="15" height="10"/><use href="#c" x="403" y="956" width="16" height="9"/><use href="#c" x="431" y="958" width="17" height="14"/>
<rect class="s" x="377" y="965.5" width="43" height="5"/><rect class="sl" x="377" y="965.5" width="8" height="5"/><rect class="p" x="455" y="962.5" width="11" height="5"/>
</g>
<g id="st-bulkhead-bottom">
<use href="#c" x="380" y="1073" width="15" height="9"/><use href="#c" x="399" y="1073" width="16" height="10"/><use href="#c" x="429" y="1077" width="17" height="12"/>
<rect class="s" x="376" y="1083.5" width="42" height="5"/><rect class="sl" x="376" y="1083.5" width="8" height="5"/><rect class="p" x="454" y="1079.5" width="10" height="5"/>
</g>
<g id="st-right">
<rect class="s" x="459" y="1040.5" width="44" height="5"/><rect class="sl" x="459" y="1040.5" width="14" height="5"/>
<use href="#c" x="514" y="1001" width="14" height="10"/><use href="#c" x="514" y="1013" width="14" height="10"/><use href="#c" x="538" y="1005" width="20" height="12"/>
<use href="#c" x="603" y="1006" width="14" height="9"/><rect class="s" x="623" y="1007.5" width="39" height="5"/><rect class="sl" x="623" y="1007.5" width="10" height="5"/>
<use href="#co" x="682" y="1001" width="15" height="14"/><use href="#co" x="593" y="969" width="15" height="9"/><rect class="po" x="559" y="988.5" width="12" height="5"/>
<rect class="p" x="598" y="1030.5" width="12" height="5"/><rect class="p" x="598" y="1038.5" width="12" height="5"/><rect class="p" x="598" y="1052.5" width="12" height="5"/><rect class="p" x="598" y="1059.5" width="12" height="5"/>
<use href="#c" x="626" y="1036" width="14" height="9"/><use href="#c" x="626" y="1056" width="14" height="9"/>
<use href="#c" x="608" y="1193" width="15" height="11"/>
</g>

<g id="ws-inputs">
<rect class="po" x="210" y="1474.5" width="14" height="5"/>
<rect class="s" x="207" y="1483.5" width="36" height="5"/><rect class="sl" x="207" y="1483.5" width="10" height="5"/><rect class="s" x="207" y="1490.5" width="36" height="5"/><rect class="sl" x="207" y="1490.5" width="10" height="5"/>
<rect class="p" x="251" y="1483.5" width="11" height="5"/><rect class="p" x="251" y="1489.5" width="11" height="5"/>
<use href="#c" x="265" y="1479" width="15" height="14"/><use href="#c" x="284" y="1472" width="15" height="11"/>
</g>
<g id="ws-upper">
<use href="#c" x="372" y="1470" width="13" height="14"/>
<rect class="py" x="409" y="1461.5" width="13" height="5"/><rect class="py" x="409" y="1476.5" width="13" height="5"/><rect class="py" x="409" y="1492.5" width="13" height="5"/><rect class="py" x="409" y="1506.5" width="13" height="5"/>
<use href="#c" x="425" y="1456" width="15" height="14"/><use href="#c" x="425" y="1472" width="15" height="13"/><use href="#c" x="425" y="1487" width="15" height="14"/><use href="#c" x="425" y="1503" width="15" height="12"/>
<use href="#co" x="520" y="1462" width="16" height="11"/><use href="#co" x="520" y="1497" width="16" height="11"/>
<rect class="p" x="488" y="1481.5" width="21" height="5"/><rect class="tg" x="498" y="1481.5" width="11" height="5"/>
<use href="#c" x="540" y="1479" width="15" height="14"/><rect class="p" x="561" y="1484.5" width="24" height="5"/>
<use href="#co" x="603" y="1523" width="15" height="17"/>
</g>
<g id="ws-lower">
<rect class="s" x="203" y="1537.5" width="54" height="5"/><rect class="sl" x="203" y="1537.5" width="9" height="5"/>
<use href="#c" x="260" y="1536" width="14" height="8"/><use href="#c" x="284" y="1534" width="15" height="13"/><use href="#c" x="312" y="1550" width="16" height="14"/><use href="#c" x="332" y="1543" width="15" height="11"/>
<rect class="p" x="297" y="1554.5" width="14" height="5"/><rect class="p" x="297" y="1560.5" width="14" height="5"/>
<use href="#c" x="370" y="1542" width="15" height="13"/>
<rect class="py" x="409" y="1533.5" width="12" height="5"/><rect class="py" x="409" y="1548.5" width="12" height="5"/><rect class="py" x="409" y="1563.5" width="12" height="5"/><rect class="py" x="409" y="1578.5" width="12" height="5"/>
<use href="#c" x="424" y="1527" width="15" height="14"/><use href="#c" x="424" y="1543" width="15" height="13"/><use href="#c" x="424" y="1558" width="15" height="14"/><use href="#c" x="424" y="1573" width="15" height="14"/>
<use href="#co" x="518" y="1533" width="16" height="10"/><use href="#co" x="518" y="1568" width="16" height="11"/>
<rect class="p" x="487" y="1553.5" width="21" height="5"/><rect class="tg" x="497" y="1553.5" width="11" height="5"/>
<use href="#c" x="538" y="1551" width="16" height="13"/><rect class="p" x="559" y="1555.5" width="25" height="5"/>
<use href="#c" x="659" y="1549" width="18" height="14"/>
<rect x="691" y="1555" width="15" height="9" rx="1" fill="#d92020" stroke="#7a0e0e" stroke-width=".7"/><rect x="697" y="1556" width="3" height="7" fill="#1a1a1a"/>
</g>
<g id="ws-data-viewer">
<rect class="po" x="649" y="1593.5" width="12" height="5"/>
<rect x="651" y="1637.5" width="44" height="5" rx="2" fill="#a8a8a8" stroke="#666" stroke-width=".6"/>
<rect class="pan" x="698" y="1601" width="64" height="93"/>
</g>
<g id="ws-lone-panel">
<rect class="pan" x="345" y="1685" width="81" height="31"/><rect class="ph" x="345.4" y="1685.4" width="80.2" height="2.5"/>
</g>
<g id="ws-bottom-cluster">
<rect class="p" x="110" y="1769.5" width="12" height="5"/><rect class="p" x="117" y="1776.5" width="11" height="5"/>
<rect class="s" x="137" y="1776.5" width="36" height="5"/><rect class="sl" x="137" y="1776.5" width="11" height="5"/>
<rect class="p" x="181" y="1751.5" width="11" height="5"/><use href="#c" x="179" y="1760" width="13" height="7"/>
<use href="#c" x="207" y="1753" width="15" height="14"/><rect class="p" x="233" y="1746.5" width="14" height="5"/>
<rect class="po" x="182" y="1772.5" width="10" height="5"/>
<use href="#c" x="186" y="1783" width="16" height="6"/><use href="#c" x="212" y="1780" width="15" height="9"/>
<use href="#c" x="225" y="1773" width="12" height="5"/><use href="#c" x="245" y="1763" width="15" height="14"/>
<rect class="p" x="273" y="1756.5" width="12" height="5"/><rect class="p" x="273" y="1770.5" width="12" height="5"/>
</g>
</svg>
